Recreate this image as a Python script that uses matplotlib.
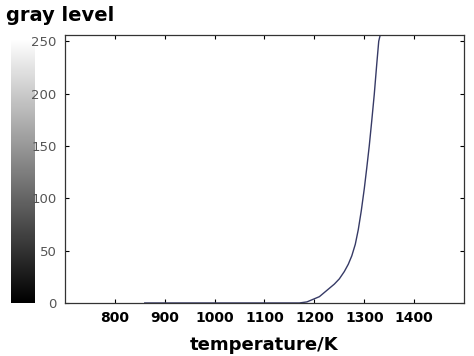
import numpy as np
import matplotlib.pyplot as plt

# temperature (K) vs gray level
temperature = [860, 1000, 1100, 1170, 1185, 1200, 1210, 1220, 1230, 1240, 1250, 1260, 1268, 1275,
               1282, 1288, 1294, 1300, 1305, 1310, 1315, 1320, 1325, 1329, 1332, 1400, 1500]
gray_level = [0, 0, 0, 0, 1, 4, 6, 10, 14, 18, 23, 30, 37, 45,
              56, 70, 88, 109, 129, 150, 174, 199, 228, 250, 256, 256, 256]

xticks = [800, 900, 1000, 1100, 1200, 1300, 1400]
yticks = [0, 50, 100, 150, 200, 250]

fig = plt.figure(figsize=(4.74, 3.56), dpi=100)

# gray colour scale bar on the left
cax = fig.add_axes([0.023, 0.149, 0.049, 0.739])
grad = np.linspace(0, 1, 256).reshape(-1, 1)
cax.imshow(grad, cmap='gray', aspect='auto', origin='lower')
cax.set_axis_off()

ax = fig.add_axes([0.137, 0.149, 0.842, 0.753])
ax.plot(temperature, gray_level, color='#363a66', linewidth=1.0)
ax.set_xlim(700, 1500)
ax.set_ylim(0, 256)
ax.set_xticks(xticks)
ax.set_yticks(yticks)
ax.tick_params(direction='in', top=True, right=True, length=3, width=0.8, pad=6)
for lab in ax.get_xticklabels():
    lab.set_fontweight('bold')
    lab.set_fontsize(10)
for lab in ax.get_yticklabels():
    lab.set_fontsize(9.5)
    lab.set_color('#555555')
for sp in ax.spines.values():
    sp.set_color('#333333')
    sp.set_linewidth(0.9)

ax.set_xlabel('temperature/K', fontsize=13, fontweight='bold', labelpad=8)
fig.text(0.012, 0.957, 'gray level', fontsize=14, fontweight='bold', va='center', ha='left')

fig.savefig('out.png', dpi=100)
